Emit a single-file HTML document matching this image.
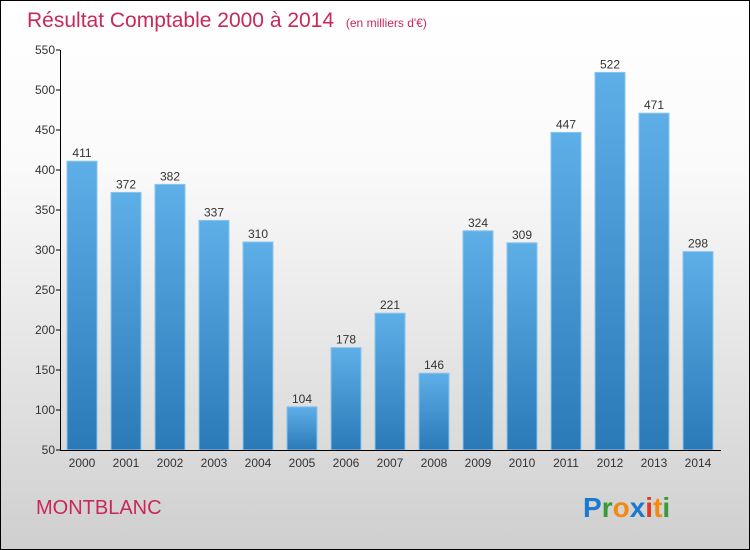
<!DOCTYPE html>
<html><head><meta charset="utf-8"><style>
body{margin:0}
#c{width:748px;height:548px;border:1px solid #000;background:linear-gradient(#fff,#fafafa 30%,#cfcfcf);position:relative;font-family:"Liberation Sans",sans-serif;overflow:hidden}
</style></head><body>
<div id="c">
<svg width="748" height="548" id="s">
<text x="26" y="26" font-size="21" fill="#c8285a">Résultat Comptable 2000 à 2014 <tspan font-size="12" dx="6">(en milliers d'€)</tspan></text>
<text x="35" y="513" font-size="20" fill="#c8285a">MONTBLANC</text>
<g font-size="28" font-weight="bold" font-family="Liberation Sans,sans-serif">
<text x="582" y="516"><tspan fill="#1a7ad0">P</tspan><tspan fill="#3a9a3a">r</tspan><tspan fill="#f08a10">o</tspan><tspan fill="#1a7ad0">x</tspan><tspan fill="#e03a20">i</tspan><tspan fill="#f08a10">t</tspan><tspan fill="#3a9a3a">i</tspan></text>
</g>
<defs><linearGradient id="g" x1="0" y1="0" x2="0" y2="1"><stop offset="0" stop-color="#5eaee8"/><stop offset="1" stop-color="#2a7ab8"/></linearGradient></defs>
<g id="bars"></g>
</svg>
</div>
<script>
const years=["2000","2001","2002","2003","2004","2005","2006","2007","2008","2009","2010","2011","2012","2013","2014"];
const values=[411,372,382,337,310,104,178,221,146,324,309,447,522,471,298];
const ticks=[50,100,150,200,250,300,350,400,450,500,550];
const ns="http://www.w3.org/2000/svg";
const s=document.getElementById('bars');
const y=v=>449-(v-50)*0.8;
const x=i=>66+i*44;
function el(t,a){const e=document.createElementNS(ns,t);for(const k in a)e.setAttribute(k,a[k]);s.appendChild(e);return e;}
values.forEach((v,i)=>{
 const r=el('rect',{x:x(i),y:y(v),width:30,height:y(50)-y(v),fill:'url(#g)',stroke:'#8cc4ee','stroke-width':1});
 
 
 const t=el('text',{x:x(i)+15,y:y(v)-4,'text-anchor':'middle','font-size':12,fill:'#333'});t.textContent=v;
 
 
 const l=el('text',{x:x(i)+15,y:466,'text-anchor':'middle','font-size':12,fill:'#333'});l.textContent=years[i];
 
 
});
ticks.forEach(t=>{
 el('line',{x1:55,x2:59,y1:y(t),y2:y(t),stroke:'#000'});
 const l=el('text',{x:54,y:y(t)+4,'text-anchor':'end','font-size':12,fill:'#333'});l.textContent=t;
 
 
});
const ya=el('line',{x1:59.5,x2:59.5,y1:y(550),y2:y(50),stroke:'#000'});


const xa=el('line',{x1:59,x2:720,y1:y(50)+0.5,y2:y(50)+0.5,stroke:'#000'});


</script>
</body></html>
